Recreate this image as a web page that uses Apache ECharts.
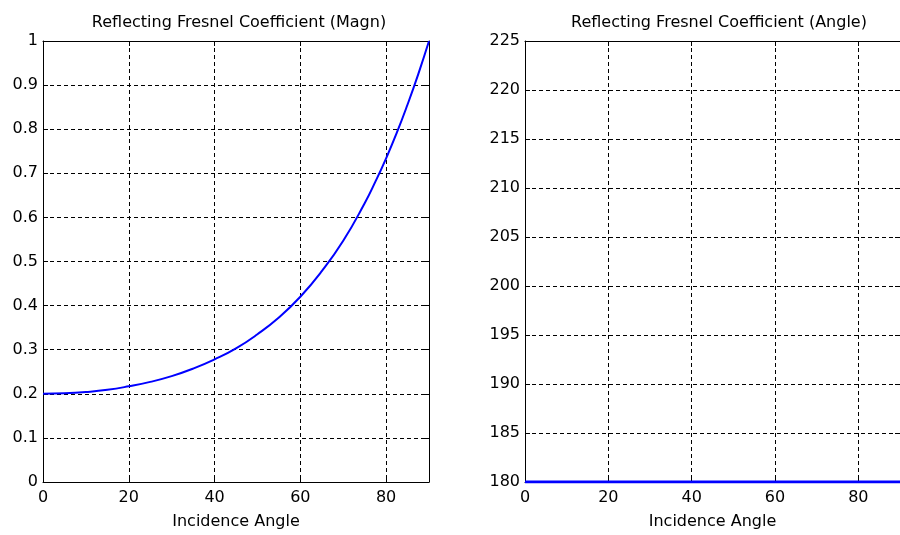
<!DOCTYPE html>
<html>
<head>
<meta charset="utf-8">
<script src="https://cdn.jsdelivr.net/npm/echarts@6/dist/echarts.min.js"></script>
<style>
  html, body { margin: 0; padding: 0; background: #fff; }
  #main { width: 900px; height: 535px; }
</style>
</head>
<body>
<div id="main"></div>
<script>
// incidence angle (deg) and reflection coefficient
const angles = [0, 5, 10, 15, 20, 25, 30, 35, 40, 45, 50, 55, 60, 65, 70, 75, 77.5, 80, 82.5, 85, 87.5, 90];
const magn = [0.200, 0.201, 0.204, 0.209, 0.217, 0.227, 0.240, 0.257, 0.278, 0.303, 0.335, 0.373, 0.420, 0.478, 0.547, 0.632, 0.681, 0.734, 0.792, 0.856, 0.925, 1.000];
const phase = [180, 180, 180, 180, 180, 180, 180, 180, 180, 180, 180, 180, 180, 180, 180, 180, 180, 180, 180, 180, 180, 180];
const xTicks = [0, 20, 40, 60, 80];

const FONT = 'DejaVu Sans';
const FS = 16;

const chart = echarts.init(document.getElementById('main'));

function xAxes(gridIndex) {
    return [
        {
            gridIndex: gridIndex,
            type: 'value', min: 0, max: 90, interval: 20,
            name: 'Incidence Angle', nameLocation: 'middle', nameGap: 32,
            nameTextStyle: { color: '#000', fontFamily: FONT, fontSize: FS },
            axisLine: { onZero: false, lineStyle: { color: '#000', width: 1 } },
            axisTick: { inside: true, length: 5, lineStyle: { color: '#000' } },
            axisLabel: { color: '#000', fontFamily: FONT, fontSize: FS, margin: 8, showMaxLabel: false,
                formatter: v => xTicks.indexOf(v) >= 0 ? String(v) : '' },
            splitLine: { show: true, lineStyle: { color: '#000', type: [4, 3], width: 1 } }
        },
        {
            gridIndex: gridIndex, position: 'top',
            type: 'value', min: 0, max: 90, interval: 20,
            axisLine: { onZero: false, lineStyle: { color: '#000' } },
            axisTick: { inside: true, length: 5, lineStyle: { color: '#000' } },
            axisLabel: { show: false },
            splitLine: { show: false }
        }
    ];
}

function yAxes(gridIndex, min, max, step) {
    return [
        {
            gridIndex: gridIndex,
            type: 'value', min: min, max: max, interval: step,
            axisLine: { show: true, onZero: false, lineStyle: { color: '#000', width: 1 } },
            axisTick: { show: true, inside: true, length: 5, lineStyle: { color: '#000' } },
            axisLabel: { color: '#000', fontFamily: FONT, fontSize: FS, margin: 5 },
            splitLine: { show: true, lineStyle: { color: '#000', type: [4, 3], width: 1 } }
        },
        {
            gridIndex: gridIndex, position: 'right',
            type: 'value', min: min, max: max, interval: step,
            axisLine: { show: true, onZero: false, lineStyle: { color: '#000' } },
            axisTick: { show: true, inside: true, length: 5, lineStyle: { color: '#000' } },
            axisLabel: { show: false },
            splitLine: { show: false }
        }
    ];
}

chart.setOption({
    backgroundColor: '#fff',
    animation: false,
    title: [
        {
            text: 'Reflecting Fresnel Coefficient (Magn)',
            left: 234, top: 10, textAlign: 'center',
            textStyle: { color: '#000', fontFamily: FONT, fontSize: FS, fontWeight: 'normal' }
        },
        {
            text: 'Reflecting Fresnel Coefficient (Angle)',
            left: 714, top: 10, textAlign: 'center',
            textStyle: { color: '#000', fontFamily: FONT, fontSize: FS, fontWeight: 'normal' }
        }
    ],
    grid: [
        { left: 43, top: 41, width: 386, height: 445 },
        { left: 525, top: 41, width: 384, height: 445 }
    ],
    xAxis: xAxes(0).concat(xAxes(1)),
    yAxis: yAxes(0, 0, 1, 0.1).concat(yAxes(1, 180, 225, 5)),
    series: [
        {
            type: 'line', xAxisIndex: 0, yAxisIndex: 0,
            data: angles.map((a, i) => [a, magn[i]]),
            showSymbol: false, smooth: true,
            lineStyle: { color: '#0000ff', width: 2 }
        },
        {
            type: 'line', xAxisIndex: 2, yAxisIndex: 2,
            data: angles.map((a, i) => [a, phase[i]]),
            showSymbol: false,
            lineStyle: { color: '#0000ff', width: 3 }
        }
    ]
});
</script>
</body>
</html>
